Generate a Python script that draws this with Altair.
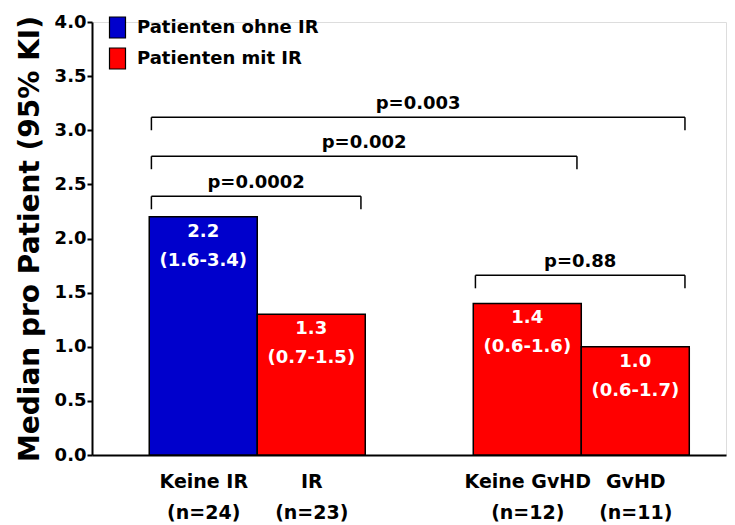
import altair as alt
import pandas as pd

# ---- data ----
categories = ["Keine IR", "IR", "Keine GvHD", "GvHD"]
n_labels = ["(n=24)", "(n=23)", "(n=12)", "(n=11)"]
slots = [1, 2, 4, 5]
medians = [2.2, 1.3, 1.4, 1.0]
ci = ["(1.6-3.4)", "(0.7-1.5)", "(0.6-1.6)", "(0.6-1.7)"]
groups = ["Patienten ohne IR", "Patienten mit IR", "Patienten mit IR", "Patienten mit IR"]
legend_order = ["Patienten ohne IR", "Patienten mit IR"]
legend_colors = ["#0000CC", "#FF0000"]

bracket_from = [0, 0, 0, 2]
bracket_to = [1, 2, 3, 3]
bracket_y = [2.39, 2.76, 3.12, 1.66]
p_values = ["p=0.0002", "p=0.002", "p=0.003", "p=0.88"]

y_ticks = [0, 0.5, 1.0, 1.5, 2.0, 2.5, 3.0, 3.5, 4.0]

# ---- tables ----
bars = pd.DataFrame({
    "cat": categories,
    "slot": slots,
    "x0": [s - 0.5 for s in slots],
    "x1": [s + 0.5 for s in slots],
    "base": [0] * len(slots),
    "median": medians,
    "group": groups,
    "label": [f"{m:.1f}\n{c}" for m, c in zip(medians, ci)],
})

drop = 0.12
h_rows, v_rows, t_rows = [], [], []
for a, b, yv, p in zip(bracket_from, bracket_to, bracket_y, p_values):
    xl = slots[a] - 0.48
    xr = slots[b] + 0.46
    h_rows.append({"x": xl, "x2": xr, "y": yv})
    v_rows.append({"x": xl, "y": yv, "y2": yv - drop})
    v_rows.append({"x": xr, "y": yv, "y2": yv - drop})
    t_rows.append({"x": (xl + xr) / 2, "y": yv, "p": p})
hdf = pd.DataFrame(h_rows)
vdf = pd.DataFrame(v_rows)
tdf = pd.DataFrame(t_rows)

# x-axis label expression (two lines per label)
parts = []
for s, c, n in zip(slots, categories, n_labels):
    parts.append(f"datum.value == {s} ? ['{c}', '{n}'] : ")
label_expr = "".join(parts) + "''"

FONT = "DejaVu Sans"
xscale = alt.Scale(domain=[-0.03, 5.84], nice=False, zero=False)
yscale = alt.Scale(domain=[0, 4], nice=False)

x_axis = alt.Axis(
    values=slots, labelExpr=label_expr, ticks=False, grid=False, title=None,
    domainColor="black", domainWidth=2, labelFont=FONT, labelFontWeight="bold",
    labelFontSize=19, labelLineHeight=31, labelPadding=17, labelColor="black",
    labelOverlap=False, labelFlush=False, labelBaseline="top",
)
y_axis = alt.Axis(
    values=y_ticks, format=".1f", grid=False, title="Median pro Patient (95% KI)",
    domainColor="black", domainWidth=2, tickColor="black", tickWidth=2, tickSize=5,
    labelFont=FONT, labelFontWeight="bold", labelFontSize=18, labelColor="black",
    labelPadding=1, titleFont=FONT, titleFontWeight="bold", titleFontSize=28,
    titleColor="black", titlePadding=10,
)

base_bars = alt.Chart(bars).mark_bar(stroke="black", strokeWidth=1.5).encode(
    x=alt.X("x0:Q", scale=xscale, axis=x_axis),
    x2="x1:Q",
    y=alt.Y("median:Q", scale=yscale, axis=y_axis),
    y2="base:Q",
    fill=alt.Fill(
        "group:N",
        scale=alt.Scale(domain=legend_order, range=legend_colors),
        sort=legend_order,
        legend=alt.Legend(
            title=None, orient="none", legendX=14, legendY=-6,
            symbolType="M-0.762,-1L0.762,-1L0.762,1L-0.762,1Z", symbolSize=441,
            symbolStrokeColor="black", symbolStrokeWidth=1.2,
            labelFont=FONT, labelFontWeight="bold", labelFontSize=18,
            labelColor="black", labelOffset=8, rowPadding=4, labelLimit=0,
        ),
    ),
)

bar_text = alt.Chart(bars).mark_text(
    font=FONT, fontWeight="bold", fontSize=18, color="white",
    baseline="top", dy=6, lineBreak="\n", lineHeight=29,
).encode(
    x=alt.X("slot:Q", scale=xscale),
    y=alt.Y("median:Q", scale=yscale),
    text="label:N",
)

h_lines = alt.Chart(hdf).mark_rule(color="black", strokeWidth=1.5).encode(
    x=alt.X("x:Q", scale=xscale), x2="x2:Q", y=alt.Y("y:Q", scale=yscale)
)
v_lines = alt.Chart(vdf).mark_rule(color="black", strokeWidth=1.5).encode(
    x=alt.X("x:Q", scale=xscale), y=alt.Y("y:Q", scale=yscale), y2="y2:Q"
)
p_text = alt.Chart(tdf).mark_text(
    font=FONT, fontWeight="bold", fontSize=18, color="black",
    baseline="alphabetic", dy=-8,
).encode(
    x=alt.X("x:Q", scale=xscale),
    y=alt.Y("y:Q", scale=yscale),
    text="p:N",
)

chart = alt.layer(base_bars, bar_text, h_lines, v_lines, p_text).properties(
    width=634, height=433,
    padding={"left": 84, "top": 14, "right": 1, "bottom": 68},
    autosize=alt.AutoSizeParams(type="none"),
).configure_view(stroke=None).configure(font=FONT)

chart.save("out.html", embed_options={"renderer": "svg", "actions": False})
